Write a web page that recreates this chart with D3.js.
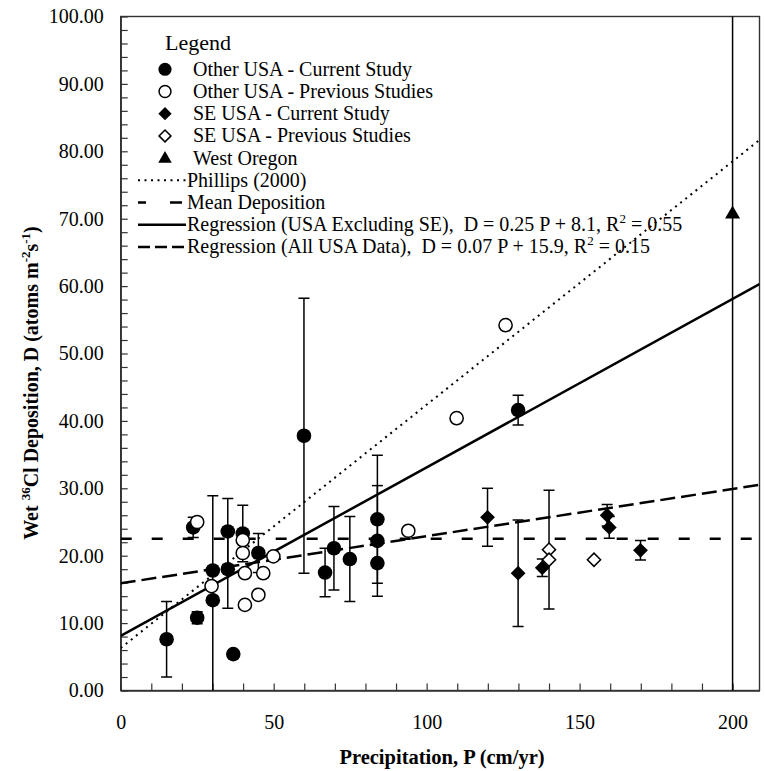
<!DOCTYPE html>
<html>
<head>
<meta charset="utf-8">
<script src="https://cdn.jsdelivr.net/npm/d3@7"></script>
<style>
  html, body { margin: 0; padding: 0; background: #fff; }
  svg { display: block; }
  text { font-family: "Liberation Serif", "Times New Roman", serif; fill: #000; white-space: pre; }
</style>
</head>
<body>
<svg id="chart" width="765" height="771"></svg>
<script>
// ---------------- DATA ----------------
// Other USA - Current Study (filled circles)
const otherCurP   = [15.0, 25.0, 23.7, 30.1, 30.1, 35.0, 35.0, 39.9, 45.0, 36.8, 59.9, 66.8, 69.7, 74.9, 83.9, 83.9, 83.9, 129.9];
const otherCurD   = [7.6, 10.8, 24.2, 17.8, 13.4, 23.6, 18.0, 23.3, 20.4, 5.4, 37.8, 17.5, 21.1, 19.5, 25.4, 22.2, 18.9, 41.6];
const otherCurErr = [5.6, 0.9, 1.5, 0, 15.5, 4.9, 5.8, 4.2, 2.9, 0, 20.4, 3.6, 6.2, 6.3, 9.5, 8.2, 0, 2.2];

// Other USA - Previous Studies (open circles)
const otherPrevP = [25.0, 29.7, 39.9, 39.9, 40.6, 40.6, 46.6, 45.0, 49.9, 94.0, 109.8, 125.8];
const otherPrevD = [25.0, 15.5, 22.3, 20.4, 17.4, 12.7, 17.4, 14.2, 19.9, 23.7, 40.4, 54.2];

// SE USA - Current Study (filled diamonds)
const seCurP   = [119.9, 129.9, 137.8, 159.0, 159.7, 169.9];
const seCurD   = [25.7, 17.4, 18.2, 26.0, 24.2, 20.8];
const seCurErr = [4.3, 7.9, 1.3, 1.6, 1.6, 1.45];

// SE USA - Previous Studies (open diamonds)
const sePrevP   = [140.0, 140.0, 154.7];
const sePrevD   = [20.9, 19.4, 19.4];
const sePrevErr = [8.8, 0, 0];

// West Oregon (filled triangle)
const westOrP   = [200];
const westOrD   = [70.8];
const westOrErr = [75];

// Lines: [slope, intercept]
const phillipsLine = [0.361, 6.3];
const meanDeposition = 22.5;
const regExclSE = [0.25, 8.1];
const regAll = [0.07, 15.9];

const xTickLabels = [0, 50, 100, 150, 200];
const yTickLabels = [0, 10, 20, 30, 40, 50, 60, 70, 80, 90, 100];

const legendItems = [
  {type: "filledCircle", label: "Other USA - Current Study"},
  {type: "openCircle",   label: "Other USA - Previous Studies"},
  {type: "filledDiamond", label: "SE USA - Current Study"},
  {type: "openDiamond",  label: "SE USA - Previous Studies"},
  {type: "triangle",     label: "West Oregon"},
  {type: "dotted",       label: "Phillips (2000)"},
  {type: "mean",         label: "Mean Deposition"},
  {type: "solid",        label: "Regression (USA Excluding SE),  D = 0.25 P + 8.1, R", sup: "2", after: " = 0.55"},
  {type: "longdash",     label: "Regression (All USA Data),  D = 0.07 P + 15.9, R", sup: "2", after: " = 0.15"}
];

// ---------------- CHART ----------------
const svg = d3.select("#chart");
const xMax = 208.8;
const x = d3.scaleLinear().domain([0, xMax]).range([120.7, 759.5]);
const y = d3.scaleLinear().domain([0, 100]).range([690.5, 16.5]);
const X0 = x(0), X1 = x(xMax), Y0 = y(0), Y1 = y(100);

svg.append("defs").append("clipPath").attr("id", "plotClip")
  .append("rect").attr("x", X0).attr("y", Y1).attr("width", X1 - X0).attr("height", Y0 - Y1);

// frame
svg.append("rect").attr("x", X0).attr("y", Y1).attr("width", X1 - X0).attr("height", Y0 - Y1)
  .attr("fill", "none").attr("stroke", "#333").attr("stroke-width", 1.4);

// axes
const xAxis = d3.axisBottom(x).tickValues(d3.range(0, 201, 10)).tickSizeInner(-7).tickSizeOuter(0)
  .tickPadding(24).tickFormat(d => xTickLabels.includes(d) ? String(d) : "");
const gx = svg.append("g").attr("transform", `translate(0,${Y0})`).call(xAxis);
const yAxis = d3.axisLeft(y).tickValues(d3.range(0, 101, 2)).tickSizeInner(-7).tickSizeOuter(0)
  .tickPadding(17).tickFormat(d => yTickLabels.includes(d) ? d3.format(".2f")(d) : "");
const gy = svg.append("g").attr("transform", `translate(${X0},0)`).call(yAxis);
[gx, gy].forEach(g => {
  g.attr("font-family", null);
  g.select(".domain").attr("stroke", "#333").attr("stroke-width", 1.4);
  g.selectAll(".tick line").attr("stroke", "#333").attr("stroke-width", 1.2);
  g.selectAll(".tick text").style("font-family", '"Liberation Serif", "Times New Roman", serif')
    .style("font-size", "20px").attr("fill", "#000");
});

// axis titles
svg.append("text").attr("x", 442).attr("y", 764).attr("text-anchor", "middle")
  .style("font-size", "20.5px").style("font-weight", "bold").text("Precipitation, P (cm/yr)");

const yt = svg.append("text").attr("transform", "translate(38,383) rotate(-90)")
  .attr("text-anchor", "middle").style("font-size", "20px").style("font-weight", "bold");
yt.append("tspan").text("Wet ");
yt.append("tspan").attr("dy", -8).style("font-size", "13px").text("36");
yt.append("tspan").attr("dy", 8).text("Cl Deposition, D (atoms m");
yt.append("tspan").attr("dy", -8).style("font-size", "13px").text("-2");
yt.append("tspan").attr("dy", 8).text("s");
yt.append("tspan").attr("dy", -8).style("font-size", "13px").text("-1");
yt.append("tspan").attr("dy", 8).text(")");

// lines
const plot = svg.append("g").attr("clip-path", "url(#plotClip)");
const lineGen = d3.line().x(d => x(d[0])).y(d => y(d[1]));
function drawLine(g, fn, dash, width) {
  g.append("path").datum([[0, fn(0)], [xMax, fn(xMax)]]).attr("d", lineGen)
    .attr("fill", "none").attr("stroke", "#000").attr("stroke-width", width)
    .attr("stroke-dasharray", dash);
}
drawLine(plot, p => phillipsLine[0] * p + phillipsLine[1], "2,4.5", 2);
drawLine(plot, p => meanDeposition, "11,20", 2.5);
drawLine(plot, p => regExclSE[0] * p + regExclSE[1], null, 2.5);
drawLine(plot, p => regAll[0] * p + regAll[1], "15,6", 2.5);

// error bars
function errBars(P, D, E) {
  P.forEach((p, i) => {
    const e = E[i];
    if (!e) return;
    const cx = x(p), lo = y(D[i] - e), hi = y(D[i] + e);
    plot.append("line").attr("x1", cx).attr("x2", cx).attr("y1", lo).attr("y2", hi)
      .attr("stroke", "#000").attr("stroke-width", 1.5);
    [lo, hi].forEach(yy => plot.append("line").attr("x1", cx - 5.5).attr("x2", cx + 5.5)
      .attr("y1", yy).attr("y2", yy).attr("stroke", "#000").attr("stroke-width", 1.5));
  });
}
errBars(otherCurP, otherCurD, otherCurErr);
errBars(seCurP, seCurD, seCurErr);
errBars(sePrevP, sePrevD, sePrevErr);
errBars(westOrP, westOrD, westOrErr);

// symbols
function diamondPath(r) { return `M0,${-r}L${r},0L0,${r}L${-r},0Z`; }
function trianglePath(w, h) { return `M0,${-h * 0.6}L${w / 2},${h * 0.4}L${-w / 2},${h * 0.4}Z`; }
function drawSymbol(g, type, cx, cy, scale) {
  scale = scale || 1;
  if (type === "filledCircle") {
    g.append("circle").attr("cx", cx).attr("cy", cy).attr("r", 7.3 * scale).attr("fill", "#000");
  } else if (type === "openCircle") {
    g.append("circle").attr("cx", cx).attr("cy", cy).attr("r", 6.6 * scale)
      .attr("fill", "#fff").attr("stroke", "#000").attr("stroke-width", 1.5);
  } else if (type === "filledDiamond") {
    g.append("path").attr("transform", `translate(${cx},${cy})`).attr("d", diamondPath(7.4 * scale)).attr("fill", "#000");
  } else if (type === "openDiamond") {
    g.append("path").attr("transform", `translate(${cx},${cy})`).attr("d", diamondPath(6.6 * scale))
      .attr("fill", "#fff").attr("stroke", "#000").attr("stroke-width", 1.5);
  } else if (type === "triangle") {
    g.append("path").attr("transform", `translate(${cx},${cy})`).attr("d", trianglePath(15 * scale, 13 * scale)).attr("fill", "#000");
  }
}
const pts = svg.append("g");
otherCurP.forEach((p, i) => drawSymbol(pts, "filledCircle", x(p), y(otherCurD[i])));
otherPrevP.forEach((p, i) => drawSymbol(pts, "openCircle", x(p), y(otherPrevD[i])));
seCurP.forEach((p, i) => drawSymbol(pts, "filledDiamond", x(p), y(seCurD[i])));
sePrevP.forEach((p, i) => drawSymbol(pts, "openDiamond", x(p), y(sePrevD[i])));
westOrP.forEach((p, i) => drawSymbol(pts, "triangle", x(p), y(westOrD[i])));

// legend
const lg = svg.append("g");
lg.append("text").attr("x", 165).attr("y", 49.5).style("font-size", "22px").text("Legend");
legendItems.forEach((it, i) => {
  const cy = 69.3 + 22.2 * i;
  const isLine = ["dotted", "mean", "solid", "longdash"].includes(it.type);
  if (isLine) {
    const dash = {dotted: "2,4.5", mean: "8,24,12,100", solid: null, longdash: "12,5"}[it.type];
    lg.append("line").attr("x1", 138).attr("x2", 186).attr("y1", cy).attr("y2", cy)
      .attr("stroke", "#000").attr("stroke-width", it.type === "dotted" ? 2 : 2.5)
      .attr("stroke-dasharray", dash);
  } else {
    drawSymbol(lg, it.type, 165, cy, 0.9);
  }
  const t = lg.append("text").attr("x", isLine ? 187 : 193).attr("y", cy + 6.5).style("font-size", "20px");
  t.append("tspan").text(it.label);
  if (it.sup) {
    t.append("tspan").attr("dy", -8).style("font-size", "13px").text(it.sup);
    t.append("tspan").attr("dy", 8).text(it.after);
  }
});
</script>
</body>
</html>
